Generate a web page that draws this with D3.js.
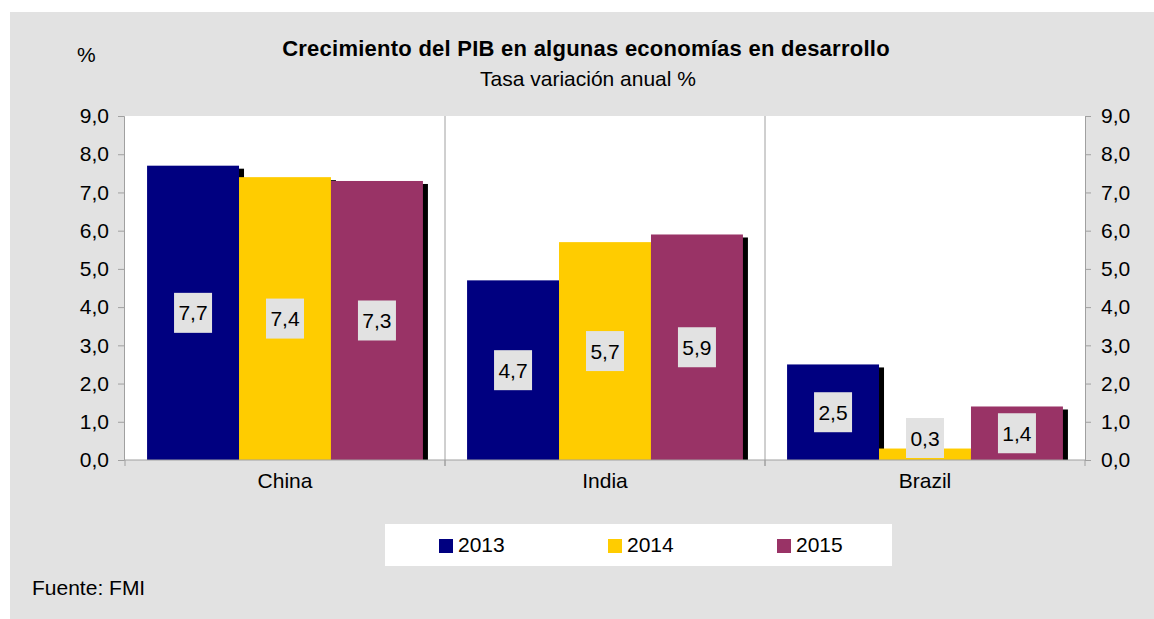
<!DOCTYPE html>
<html>
<head>
<meta charset="utf-8">
<script src="https://cdn.jsdelivr.net/npm/d3@7"></script>
<style>
  body { margin: 0; background: #ffffff; }
  text { font-family: "Liberation Sans", Arial, sans-serif; fill: #000; }
</style>
</head>
<body>
<div id="chart"></div>
<script>
// data
const countries = ["China", "India", "Brazil"];
const years = ["2013", "2014", "2015"];
const v2013 = [7.7, 4.7, 2.5];
const v2014 = [7.4, 5.7, 0.3];
const v2015 = [7.3, 5.9, 1.4];
const yTicks = [0, 1, 2, 3, 4, 5, 6, 7, 8, 9];
const colors = ["#000080", "#ffcc00", "#993366"];

const series = [v2013, v2014, v2015];
const width = 1154, height = 619;
const plot = { left: 125, right: 1085, top: 116, bottom: 460 };

const svg = d3.select("#chart").append("svg")
    .attr("width", width)
    .attr("height", height);

// gray chart background
svg.append("rect")
    .attr("x", 10).attr("y", 12)
    .attr("width", width - 10).attr("height", height - 12)
    .attr("fill", "#e2e2e2");

// plot area
svg.append("rect")
    .attr("x", plot.left).attr("y", plot.top)
    .attr("width", plot.right - plot.left).attr("height", plot.bottom - plot.top)
    .attr("fill", "#fff");

const x0 = d3.scaleBand().domain(countries).range([plot.left, plot.right]);
const x1 = d3.scaleBand().domain(years).range([0, x0.bandwidth()]).paddingOuter(0.24);
const y = d3.scaleLinear().domain([0, 9]).range([plot.bottom, plot.top]);

// category separators
svg.selectAll("line.sep")
    .data(countries.slice(1))
    .enter().append("line")
    .attr("class", "sep")
    .attr("x1", d => x0(d)).attr("x2", d => x0(d))
    .attr("y1", plot.top).attr("y2", plot.bottom + 6)
    .attr("stroke", "#a0a0a0").attr("stroke-width", 1);

// bars: shadows first, then the bars
const flat = [];
countries.forEach((c, i) => years.forEach((yr, j) => flat.push({ c, yr, j, v: series[j][i] })));

const groups = svg.append("g");
flat.forEach(d => {
    const bx = x0(d.c) + x1(d.yr);
    groups.append("rect")
        .attr("x", bx + 5).attr("y", y(d.v) + 3)
        .attr("width", x1.bandwidth()).attr("height", plot.bottom - y(d.v) - 3)
        .attr("fill", "#000");
});
flat.forEach(d => {
    const bx = x0(d.c) + x1(d.yr);
    groups.append("rect")
        .attr("x", bx).attr("y", y(d.v))
        .attr("width", x1.bandwidth()).attr("height", plot.bottom - y(d.v))
        .attr("fill", colors[d.j]);
});

// value labels
const fmt = d => d3.format(".1f")(d).replace(".", ",");
flat.forEach(d => {
    const cx = x0(d.c) + x1(d.yr) + x1.bandwidth() / 2;
    const cy = Math.min((y(d.v) + plot.bottom) / 2, plot.bottom - 22);
    groups.append("rect")
        .attr("x", cx - 19).attr("y", cy - 20)
        .attr("width", 38).attr("height", 40)
        .attr("fill", "#e2e2e2");
    groups.append("text")
        .attr("x", cx).attr("y", cy + 7.5)
        .attr("text-anchor", "middle")
        .style("font-size", "21px")
        .text(fmt(d.v));
});

// axes
const left = svg.append("g")
    .attr("transform", `translate(${plot.left - 1},0)`)
    .call(d3.axisLeft(y).tickValues(yTicks).tickFormat(fmt).tickSize(6).tickPadding(9));
const right = svg.append("g")
    .attr("transform", `translate(${plot.right},0)`)
    .call(d3.axisRight(y).tickValues(yTicks).tickFormat(fmt).tickSize(6).tickPadding(10));
const bottom = svg.append("g")
    .attr("transform", `translate(0,${plot.bottom})`)
    .call(d3.axisBottom(x0).tickSize(0).tickPadding(13));
bottom.select(".domain").attr("d", `M${plot.left},0H${plot.right}`);

[left, right, bottom].forEach(g => {
    g.select(".domain").attr("stroke", "#a0a0a0");
    g.selectAll(".tick line").attr("stroke", "#a0a0a0");
    g.selectAll("text").style("font-size", "21px")
        .style("font-family", '"Liberation Sans", Arial, sans-serif').attr("fill", "#000");
});

// tick marks below the category axis
svg.selectAll("line.xt")
    .data([plot.left, ...countries.slice(1).map(c => x0(c)), plot.right])
    .enter().append("line")
    .attr("x1", d => d).attr("x2", d => d)
    .attr("y1", plot.bottom).attr("y2", plot.bottom + 6)
    .attr("stroke", "#a0a0a0");

// titles
svg.append("text")
    .attr("x", 586).attr("y", 56)
    .attr("text-anchor", "middle")
    .style("font-size", "22px").style("font-weight", "bold")
    .style("letter-spacing", "0.25px")
    .text("Crecimiento del PIB en algunas economías en desarrollo");
svg.append("text")
    .attr("x", 588).attr("y", 86)
    .attr("text-anchor", "middle")
    .style("font-size", "21px")
    .text("Tasa variación anual %");
svg.append("text")
    .attr("x", 77).attr("y", 62)
    .style("font-size", "21px")
    .text("%");

// legend
const legend = svg.append("g");
legend.append("rect")
    .attr("x", 385).attr("y", 524)
    .attr("width", 507).attr("height", 42)
    .attr("fill", "#fff");
years.forEach((yr, j) => {
    const lx = 439 + j * 169;
    legend.append("rect")
        .attr("x", lx).attr("y", 539)
        .attr("width", 14).attr("height", 14)
        .attr("fill", colors[j]);
    legend.append("text")
        .attr("x", lx + 19).attr("y", 552)
        .style("font-size", "21px")
        .text(yr);
});

svg.append("text")
    .attr("x", 32).attr("y", 595)
    .style("font-size", "21px")
    .text("Fuente: FMI");
</script>
</body>
</html>
